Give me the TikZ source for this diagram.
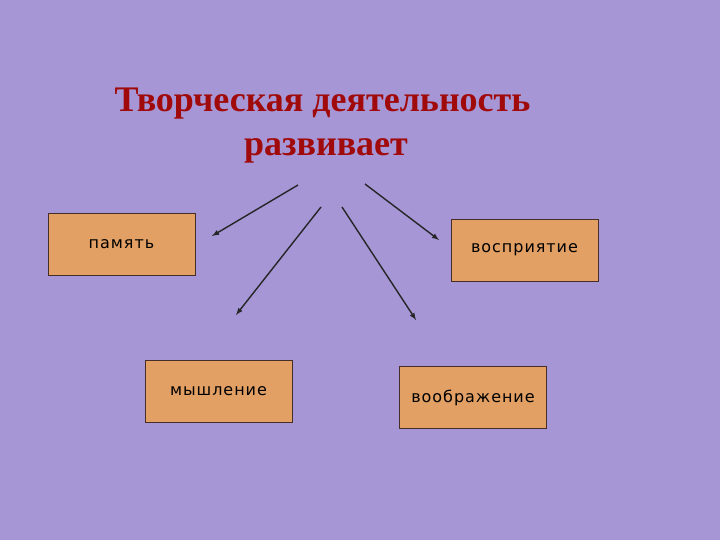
\documentclass[tikz,border=0pt]{standalone}
\usepackage{fontspec}
\setmainfont{Liberation Serif}
\newfontfamily\boxfont[LetterSpace=6]{DejaVu Sans}
\definecolor{bgpurple}{RGB}{166,150,214}
\definecolor{boxfill}{RGB}{226,160,100}
\definecolor{boxline}{RGB}{70,45,40}
\definecolor{titlered}{RGB}{160,10,10}
\begin{document}
\begin{tikzpicture}[x=1pt, y=-1pt,
	skill/.style={draw=boxline, fill=boxfill, line width=.8pt, minimum width=147pt, minimum height=62pt, inner sep=0pt, font=\boxfont\fontsize{16}{18}\selectfont},
	heading/.style={text=titlered, anchor=base, inner sep=0pt, font=\bfseries\fontsize{36}{44}\selectfont},
	pointer/.style={-latex, line width=1.4pt, black!85}]
	\fill[bgpurple] (0,0) rectangle (720,540);
	\node[heading] (title)  at (322.5,112) {Творческая деятельность};
	\node[heading] (title2) at (326,156)   {развивает};
	\node[skill] (pamyat)  at (121.5,244) {память};
	\node[skill] (vospr)   at (524.5,250) {восприятие};
	\node[skill] (myshl)   at (218.5,391) {мышление};
	\node[skill] (voobr)   at (473,397.5) {воображение};
	% arrow ends
	\coordinate (s1) at (298,185); \coordinate (e1) at (212,236);
	\coordinate (s2) at (321,207); \coordinate (e2) at (236,315);
	\coordinate (s3) at (342,207); \coordinate (e3) at (416,320);
	\coordinate (s4) at (365,184); \coordinate (e4) at (439,240);
	\draw[pointer] (s1) -- (e1);
	\draw[pointer] (s2) -- (e2);
	\draw[pointer] (s3) -- (e3);
	\draw[pointer] (s4) -- (e4);
\end{tikzpicture}
\end{document}
